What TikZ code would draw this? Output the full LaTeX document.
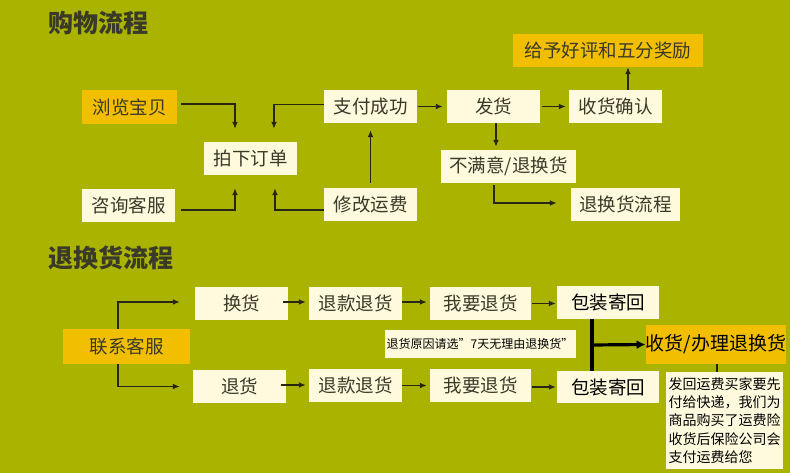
\documentclass[tikz,border=0pt]{standalone}
\usepackage{fontspec}
\setmainfont{Noto Sans CJK SC}
\usepackage{tikz}
\usepackage{xcolor}
\usetikzlibrary{arrows.meta,calc}

\definecolor{pagebg}{RGB}{170,180,0}
\definecolor{cream}{RGB}{255,250,222}
\definecolor{gold}{RGB}{242,191,0}
\definecolor{ink}{RGB}{58,58,40}
\definecolor{wire}{RGB}{38,38,18}

\begin{document}
\begin{tikzpicture}[x=1pt,y=-1pt,
    box/.style={fill=cream,text=ink,inner sep=0pt,minimum width=93pt,minimum height=33pt,
      font=\fontsize{18.5}{20}\selectfont},
    hl/.style={box,fill=gold},
    title/.style={anchor=west,inner sep=0pt,text=ink,font=\fontsize{25}{28}\selectfont\bfseries},
    arr/.style={draw=wire,line width=1.8pt,-{Latex[length=7pt,width=6pt]}},
    bigarr/.style={draw=black,line width=3.2pt,-{Latex[length=9pt,width=9pt]}}]
        \useasboundingbox[fill=pagebg] (0,0) rectangle (790,473);

        % shopping flow
        \node[title] (t1) at (48,23) {购物流程};
        \node[hl,minimum width=95pt,minimum height=34pt] (liulan) at (129.5,107) {浏览宝贝};
        \node[box] (zixun) at (128.5,205.5) {咨询客服};
        \node[box] (paixia) at (250.5,158.5) {拍下订单};
        \node[box] (zhifu) at (370.5,106.5) {支付成功};
        \node[box] (xiugai) at (370.5,204.5) {修改运费};
        \node[box] (fahuo) at (493.5,106.5) {发货};
        \node[box] (shouhuo) at (615.5,106.5) {收货确认};
        \node[hl,minimum width=190pt] (haoping) at (608,50.5) {给予好评和五分奖励};
        \node[box,minimum width=135pt] (bumanyi) at (508.5,166.5) {不满意/退换货};
        \node[box,minimum width=109pt] (tuihuan) at (625.5,204.5) {退换货流程};

        \draw[arr] ([xshift=4pt,yshift=3pt]liulan.east) -| ([xshift=-15.5pt,yshift=13pt]paixia.north);
        \draw[arr] ([yshift=2pt]zhifu.west) -| ([xshift=23.5pt,yshift=13pt]paixia.north);
        \draw[arr] ([xshift=6pt,yshift=-4.5pt]zixun.east) -| ([xshift=-15.5pt,yshift=-13pt]paixia.south);
        \draw[arr] ([yshift=-5.5pt]xiugai.west) -| ([xshift=24.5pt,yshift=-13pt]paixia.south);
        \draw[arr] ([yshift=5pt]xiugai.north) -- ([yshift=-7pt]zhifu.south);
        \draw[arr] ([xshift=1pt]zhifu.east) -- ([xshift=-4pt]fahuo.west);
        \draw[arr] ([xshift=2pt]fahuo.east) -- ([xshift=-3pt]shouhuo.west);
        \draw[arr] ([xshift=12.5pt]shouhuo.north) -- ([xshift=12.5pt]shouhuo.north |- haoping.south);
        \draw[arr] ([xshift=2.5pt]fahuo.south) -- ([xshift=2.5pt,yshift=3pt]fahuo.south |- bumanyi.north);
        \draw[arr] ([xshift=-14.5pt,yshift=-2pt]bumanyi.south) |- ([xshift=-14pt,yshift=1.5pt]tuihuan.west);

        % return / exchange flow
        \node[title] (t2) at (48,258) {退换货流程};
        \node[hl,minimum width=127pt,minimum height=35pt] (lianxi) at (126.5,346.5) {联系客服};
        \node[box] (huanhuo) at (241.5,303.5) {换货};
        \node[box] (tuihuo) at (239.5,386.5) {退货};
        \node[box] (tk1) at (355.5,303.5) {退款退货};
        \node[box] (tk2) at (355.5,385.5) {退款退货};
        \node[box,minimum width=101pt] (wy1) at (480.5,303.5) {我要退货};
        \node[box,minimum width=101pt] (wy2) at (480.5,385.5) {我要退货};
        \node[box,minimum width=102pt,text=black] (bz1) at (608,302.5) {包装寄回};
        \node[box,minimum width=102pt,minimum height=32pt,text=black] (bz2) at (608,387) {包装寄回};
        \node[hl,minimum width=140pt,minimum height=39pt,text=black,
          font=\fontsize{19}{21}\selectfont] (banli) at (716,344.5) {收货/办理退换货};
        \node[box,minimum width=191pt,minimum height=28pt,text=black,
          font=\fontsize{12}{14}\selectfont] (yuanyin) at (480,344) {退货原因请选”7天无理由退换货”};
        \node[box,minimum width=117pt,minimum height=97pt,text width=112pt,align=left,text=black,
          font=\fontsize{14}{18.3}\selectfont] (fahui) at (724.5,420.5)
          {发回运费买家要先\\付给快递，我们为\\商品购买了运费险\\收货后保险公司会\\支付运费给您};

        \draw[arr] ([xshift=-8.5pt]lianxi.north) |- ([xshift=-15pt,yshift=1.5pt]huanhuo.west);
        \draw[arr] ([xshift=-8.5pt]lianxi.south) |- ([xshift=-13pt]tuihuo.west);
        \draw[arr] ([xshift=-5pt,yshift=1.5pt]huanhuo.east) -- ([xshift=-3pt,yshift=1.5pt]tk1.west);
        \draw[arr] ([xshift=-5pt,yshift=1.5pt]tuihuo.east) -- ([xshift=-3pt,yshift=1.5pt]tuihuo.east -| tk2.west);
        \draw[arr] ([yshift=1.5pt]tk1.east) -- ([xshift=-3pt,yshift=1.5pt]wy1.west);
        \draw[arr] (tk2.east) -- ([xshift=-3pt]wy2.west);
        \draw[arr] ([xshift=1pt]wy1.east) -- ([xshift=-1pt]wy1.east -| bz1.west);
        \draw[arr] ([xshift=1pt,yshift=-1.5pt]wy2.east) -- ([xshift=-1pt,yshift=-1.5pt]wy2.east -| bz2.west);
        \draw[black,line width=3.2pt] ([xshift=-16pt]bz1.south) -- ([xshift=-16pt]bz2.north);
        \draw[bigarr] ($([xshift=-16pt]bz1.south)!.5!([xshift=-16pt]bz2.north)$) -- (banli.west);
        \draw[wire,line width=1.4pt] ([xshift=1pt]banli.south) -- ([xshift=1pt]banli.south |- fahui.north);
      \end{tikzpicture}
\end{document}
